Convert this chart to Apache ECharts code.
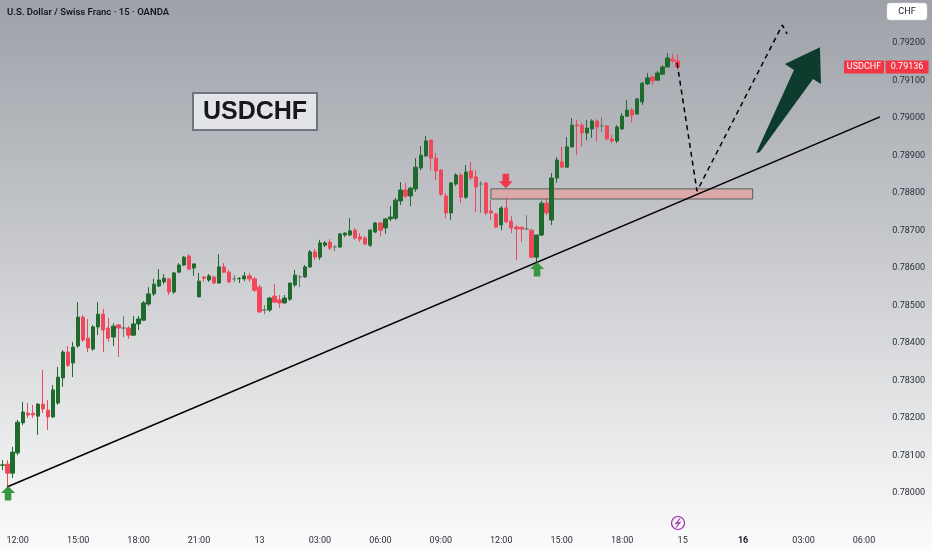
<!DOCTYPE html>
<html><head><meta charset="utf-8">
<script src="https://cdn.jsdelivr.net/npm/echarts@6.0.0/dist/echarts.min.js"></script>
<style>html,body{margin:0;padding:0;width:932px;height:550px;overflow:hidden;background:#fff}#c{width:932px;height:550px}</style>
</head><body><div id="c"></div>
<script>
// ---- data ----
const tickLabels = ['12:00','15:00','18:00','21:00','13','03:00','06:00','09:00','12:00','15:00','18:00','15','16','03:00','06:00'];
const boldTick = '16';
const firstTickSlot = 3, slotsPerTick = 12, slotCount = 185;

const opens = [0.78074,0.78077,0.78053,0.78107,0.78187,0.78213,0.78213,0.78205,0.78237,0.78221,0.78203,0.78240,0.78307,0.78376,0.78347,0.78392,0.78469,0.78413,0.78384,0.78443,0.78477,0.78440,0.78416,0.78448,0.78440,0.78440,0.78421,0.78451,0.78461,0.78504,0.78531,0.78552,0.78563,0.78571,0.78536,0.78589,0.78608,0.78632,0.78600,0.78523,0.78576,0.78568,0.78576,0.78560,0.78603,0.78589,0.78571,0.78571,0.78571,0.78579,0.78571,0.78549,0.78488,0.78488,0.78525,0.78515,0.78507,0.78517,0.78555,0.78576,0.78576,0.78603,0.78643,0.78629,0.78661,0.78669,0.78656,0.78656,0.78688,0.78688,0.78701,0.78683,0.78680,0.78661,0.78696,0.78720,0.78707,0.78731,0.78733,0.78779,0.78808,0.78792,0.78811,0.78867,0.78899,0.78941,0.78893,0.78861,0.78792,0.78747,0.78824,0.78848,0.78789,0.78859,0.78843,0.78824,0.78827,0.78752,0.78744,0.78715,0.78760,0.78725,0.78709,0.78709,0.78704,0.78701,0.78629,0.78688,0.78773,0.78728,0.78840,0.78883,0.78869,0.78923,0.78981,0.78981,0.78960,0.78971,0.78992,0.78979,0.78979,0.78944,0.78939,0.78971,0.79005,0.79021,0.79011,0.79043,0.79091,0.79109,0.79101,0.79117,0.79136,0.79157,0.79152];
const closes = [0.78075,0.78053,0.78109,0.78189,0.78216,0.78208,0.78208,0.78237,0.78224,0.78203,0.78275,0.78309,0.78376,0.78341,0.78389,0.78469,0.78408,0.78387,0.78443,0.78477,0.78435,0.78413,0.78445,0.78440,0.78440,0.78421,0.78451,0.78464,0.78507,0.78531,0.78557,0.78568,0.78573,0.78536,0.78587,0.78608,0.78629,0.78597,0.78611,0.78565,0.78573,0.78579,0.78560,0.78603,0.78589,0.78563,0.78571,0.78572,0.78579,0.78571,0.78541,0.78483,0.78488,0.78520,0.78509,0.78507,0.78520,0.78560,0.78581,0.78576,0.78603,0.78643,0.78629,0.78667,0.78667,0.78653,0.78656,0.78691,0.78693,0.78699,0.78680,0.78677,0.78664,0.78701,0.78720,0.78701,0.78731,0.78736,0.78781,0.78808,0.78792,0.78813,0.78869,0.78901,0.78939,0.78893,0.78859,0.78797,0.78747,0.78827,0.78848,0.78789,0.78856,0.78840,0.78816,0.78824,0.78747,0.78747,0.78709,0.78760,0.78723,0.78707,0.78704,0.78704,0.78704,0.78629,0.78688,0.78773,0.78747,0.78840,0.78888,0.78869,0.78923,0.78981,0.78979,0.78960,0.78973,0.78992,0.78976,0.78979,0.78944,0.78939,0.78976,0.79005,0.79021,0.79008,0.79051,0.79093,0.79107,0.79099,0.79120,0.79136,0.79160,0.79152,0.79136];
const lows = [0.78061,0.78016,0.78040,0.78101,0.78181,0.78200,0.78200,0.78155,0.78213,0.78168,0.78200,0.78235,0.78283,0.78336,0.78309,0.78387,0.78403,0.78376,0.78379,0.78421,0.78376,0.78403,0.78392,0.78363,0.78416,0.78411,0.78419,0.78435,0.78459,0.78499,0.78525,0.78549,0.78557,0.78528,0.78531,0.78587,0.78605,0.78595,0.78579,0.78523,0.78563,0.78563,0.78557,0.78558,0.78587,0.78560,0.78563,0.78560,0.78565,0.78563,0.78536,0.78480,0.78477,0.78483,0.78507,0.78493,0.78505,0.78512,0.78549,0.78549,0.78574,0.78600,0.78621,0.78621,0.78656,0.78648,0.78645,0.78653,0.78683,0.78685,0.78675,0.78669,0.78661,0.78656,0.78693,0.78685,0.78691,0.78725,0.78728,0.78768,0.78787,0.78765,0.78803,0.78861,0.78896,0.78861,0.78835,0.78792,0.78733,0.78728,0.78819,0.78773,0.78784,0.78835,0.78749,0.78747,0.78741,0.78728,0.78707,0.78701,0.78720,0.78693,0.78621,0.78669,0.78701,0.78627,0.78613,0.78685,0.78741,0.78715,0.78827,0.78867,0.78867,0.78921,0.78901,0.78923,0.78941,0.78947,0.78936,0.78963,0.78941,0.78933,0.78933,0.78968,0.79003,0.78989,0.79008,0.79035,0.79088,0.79088,0.79099,0.79115,0.79136,0.79147,0.79128];
const highs = [0.78088,0.78088,0.78123,0.78195,0.78243,0.78240,0.78235,0.78240,0.78328,0.78248,0.78288,0.78336,0.78381,0.78392,0.78403,0.78509,0.78475,0.78464,0.78448,0.78509,0.78491,0.78467,0.78453,0.78451,0.78472,0.78445,0.78472,0.78472,0.78512,0.78549,0.78571,0.78597,0.78584,0.78573,0.78589,0.78613,0.78632,0.78637,0.78611,0.78587,0.78578,0.78584,0.78579,0.78637,0.78613,0.78595,0.78581,0.78576,0.78589,0.78587,0.78576,0.78555,0.78501,0.78523,0.78557,0.78528,0.78528,0.78560,0.78595,0.78581,0.78608,0.78648,0.78651,0.78675,0.78672,0.78677,0.78661,0.78693,0.78696,0.78733,0.78707,0.78693,0.78685,0.78704,0.78723,0.78723,0.78733,0.78765,0.78787,0.78829,0.78827,0.78816,0.78893,0.78925,0.78952,0.78944,0.78907,0.78864,0.78800,0.78829,0.78853,0.78853,0.78875,0.78883,0.78861,0.78832,0.78829,0.78781,0.78747,0.78765,0.78789,0.78739,0.78715,0.78709,0.78741,0.78704,0.78688,0.78779,0.78787,0.78853,0.78896,0.78923,0.78949,0.79000,0.78995,0.78987,0.78995,0.78997,0.78997,0.79003,0.78981,0.78955,0.78981,0.79013,0.79048,0.79027,0.79053,0.79096,0.79120,0.79112,0.79125,0.79141,0.79173,0.79171,0.79171];

const symbolName = 'USDCHF';
const quoteCurrency = 'CHF';
const titleText = 'U.S. Dollar / Swiss Franc · 15 · OANDA';

// annotations in (slot index, price)
const trendX = [0.89, 174.17];
const trendP = [0.78016, 0.79003];
const pathX = [133.9, 137.85, 154.8, 155.75];
const pathP = [0.79147, 0.78805, 0.79248, 0.79224];
const zoneX = [96.96, 148.9];
const zoneP = [0.78811, 0.78784];
const bigArrowX = [149.6, 157.1, 155.3, 162.26, 162.46, 160.88, 150.3];
const bigArrowP = [0.78907, 0.79128, 0.79144, 0.79189, 0.79091, 0.79104, 0.78909];
const markerX = [1.1, 99.9, 106.1];
const markerP = [0.78019, 0.78813, 0.78616];
const markerDir = ['up', 'down', 'up'];

// ---- chart ----
const chart = echarts.init(document.getElementById('c'), null, {renderer: 'canvas', width: 932, height: 550});
const slots = [];
for (let i = 0; i < slotCount; i++) slots.push(String(i));
const candleData = opens.map((o, i) => [o, closes[i], lows[i], highs[i]]);
const lastIdx = closes.length - 1;
const FONT = 'Roboto, "Noto Sans", sans-serif';
const GREEN = '#1f6b2d', RED = '#f0475a';

const option = {
  animation: false,
  backgroundColor: new echarts.graphic.LinearGradient(0, 0, 0, 1, [
    {offset: 0, color: '#9ea1a8'},
    {offset: 0.45, color: '#c7c9cd'},
    {offset: 0.8, color: '#e9eaeb'},
    {offset: 1, color: '#fbfbfb'}
  ]),
  grid: {left: 0, right: 0, top: 5.5, bottom: 19.5, containLabel: false, outerBoundsMode: 'none'},
  xAxis: [{
    type: 'category', data: slots, boundaryGap: true,
    axisLine: {show: false}, axisTick: {show: false}, splitLine: {show: false},
    axisLabel: {
      margin: 6, fontSize: 9, color: '#2a2e39', fontFamily: FONT,
      interval: (i) => i >= firstTickSlot && (i - firstTickSlot) % slotsPerTick === 0,
      formatter: (v, i) => {
        const t = tickLabels[(i - firstTickSlot) / slotsPerTick];
        if (t === undefined) return '';
        return t === boldTick ? '{b|' + t + '}' : t;
      },
      rich: {b: {fontWeight: 'bold', fontSize: 9, color: '#131722', fontFamily: FONT}}
    }
  }, {
    type: 'value', min: -0.5, max: slotCount - 0.5, show: false
  }],
  yAxis: {
    type: 'value', position: 'right', min: 0.779, max: 0.793, interval: 0.001, scale: true,
    axisLine: {show: false}, axisTick: {show: false}, splitLine: {show: false},
    axisLabel: {inside: true, margin: 7, fontSize: 9, color: '#2a2e39', fontFamily: FONT,
      showMinLabel: false, showMaxLabel: false, formatter: (v) => v.toFixed(5)}
  },
  series: [
    {
      type: 'custom', xAxisIndex: 1, z: 1, silent: true,
      data: [[zoneX[0], zoneP[0], zoneX[1], zoneP[1]]],
      renderItem: (params, api) => {
        const a = api.coord([api.value(0), api.value(1)]);
        const b = api.coord([api.value(2), api.value(3)]);
        return {type: 'rect', shape: {x: a[0], y: a[1], width: b[0] - a[0], height: b[1] - a[1]},
          style: {fill: 'rgba(232,160,160,0.72)', stroke: '#55625a', lineWidth: 1}};
      }
    },
    {
      type: 'candlestick', xAxisIndex: 0, z: 2, barWidth: 3.8, silent: true,
      data: candleData,
      itemStyle: {color: GREEN, color0: RED, borderColor: GREEN, borderColor0: RED, borderColorDoji: '#6b7b70', borderWidth: 1}
    },
    {
      type: 'line', xAxisIndex: 1, z: 3, silent: true, symbol: 'none',
      data: trendX.map((x, i) => [x, trendP[i]]),
      lineStyle: {color: '#000', width: 1.6}
    },
    {
      type: 'line', xAxisIndex: 1, z: 3, silent: true, symbol: 'none',
      data: pathX.map((x, i) => [x, pathP[i]]),
      lineStyle: {color: '#000', width: 1.5, type: [5, 4]}
    },
    {
      type: 'custom', xAxisIndex: 1, z: 4, silent: true,
      data: [[0]],
      renderItem: (params, api) => {
        const pts = bigArrowX.map((x, i) => api.coord([x, bigArrowP[i]]));
        return {type: 'polygon', shape: {points: pts}, style: {fill: '#0d3b2d'}};
      }
    },
    {
      type: 'custom', xAxisIndex: 1, z: 4, silent: true,
      data: markerX.map((x, i) => [x, markerP[i], markerDir[i] === 'up' ? 1 : -1]),
      renderItem: (params, api) => {
        const p = api.coord([api.value(0), api.value(1)]);
        const d = api.value(2);
        const x = p[0], y = p[1];
        const h = 7, hw = 7, sw = 3.3, sh = 7.5;
        const pts = [[x, y], [x + hw, y + d * h], [x + sw, y + d * h], [x + sw, y + d * (h + sh)],
                     [x - sw, y + d * (h + sh)], [x - sw, y + d * h], [x - hw, y + d * h]];
        return {type: 'polygon', shape: {points: pts}, style: {fill: d > 0 ? '#3a963f' : '#f03a4c'}};
      }
    },
    {
      type: 'custom', xAxisIndex: 0, z: 6, silent: true, clip: false,
      data: [[lastIdx, closes[lastIdx]]],
      renderItem: (params, api) => {
        const y = api.coord([api.value(0), api.value(1)])[1];
        return {type: 'group', children: [
          {type: 'rect', shape: {x: 844, y: y - 6.5, width: 40, height: 13}, style: {fill: '#f23645'}},
          {type: 'rect', shape: {x: 885.5, y: y - 6.5, width: 43, height: 13}, style: {fill: '#f23645'}},
          {type: 'text', style: {text: symbolName, x: 864, y: y, align: 'center', verticalAlign: 'middle', fill: '#fff', font: '9px ' + FONT}},
          {type: 'text', style: {text: api.value(1).toFixed(5), x: 907, y: y, align: 'center', verticalAlign: 'middle', fill: '#fff', font: '9px ' + FONT}}
        ]};
      }
    }
  ],
  graphic: [
    {type: 'text', left: 7, top: 8, style: {text: titleText, fill: '#131722', font: '600 9.5px ' + FONT}},
    {type: 'rect', shape: {x: 887, y: 3, width: 40, height: 17, r: 3}, style: {fill: '#ffffff', stroke: '#d6d8dc', lineWidth: 0.5}},
    {type: 'text', style: {text: quoteCurrency, x: 907, y: 11.5, align: 'center', verticalAlign: 'middle', fill: '#131722', font: '9px ' + FONT}},
    {type: 'rect', shape: {x: 193, y: 93, width: 124, height: 37}, style: {fill: '#e2e4e7', stroke: '#6c7780', lineWidth: 2}},
    {type: 'text', style: {text: symbolName, x: 255, y: 112, align: 'center', verticalAlign: 'middle', fill: '#16181c', font: 'bold 25px "Liberation Sans", Arial, sans-serif'}},
    {type: 'circle', shape: {cx: 678, cy: 523, r: 6.5}, style: {fill: 'none', stroke: '#9c27b0', lineWidth: 1.2}},
    {type: 'polyline', shape: {points: [[680, 518.5], [676, 523.5], [680, 522.5], [676, 527.5]]}, style: {fill: 'none', stroke: '#9c27b0', lineWidth: 1.1}}
  ]
};
chart.setOption(option);
</script>
</body></html>
